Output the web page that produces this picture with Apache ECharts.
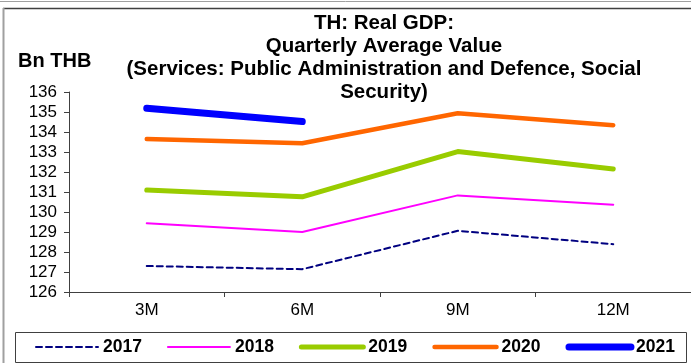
<!DOCTYPE html>
<html><head><meta charset="utf-8">
<script src="https://cdn.jsdelivr.net/npm/echarts@6/dist/echarts.min.js"></script>
<style>html,body{margin:0;padding:0;background:#fff}#c{width:691px;height:363px}</style>
</head><body><div id="c"></div>
<script>
const categories = ['3M', '6M', '9M', '12M'];
const s2017 = [127.30, 127.14, 129.06, 128.39];
const s2018 = [129.44, 129.00, 130.83, 130.36];
const s2019 = [131.10, 130.76, 133.02, 132.15];
const s2020 = [133.65, 133.44, 134.94, 134.34];
const s2021 = [135.19, 134.52];
const yTicks = [126, 127, 128, 129, 130, 131, 132, 133, 134, 135, 136];
const years = ['2017', '2018', '2019', '2020', '2021'];

const chart = echarts.init(document.getElementById('c'), null, {renderer: 'canvas'});
const FONT = 'Liberation Sans, Arial, sans-serif';
const styles = {
  '2017': {color: '#000080', width: 2, type: [6, 4]},
  '2018': {color: '#ff00ff', width: 2, type: 'solid'},
  '2019': {color: '#99cc00', width: 5, type: 'solid'},
  '2020': {color: '#ff6600', width: 4.5, type: 'solid'},
  '2021': {color: '#0000ff', width: 7, type: 'solid'}
};
function mk(name, data) {
  const s = styles[name];
  return {
    name, type: 'line', data, symbol: 'none', smooth: false,
    lineStyle: {color: s.color, width: s.width, type: s.type, cap: 'round', join: 'round'},
    itemStyle: {color: s.color}, emphasis: {disabled: true}, z: 3
  };
}
chart.setOption({
  animation: false,
  backgroundColor: '#fff',
  title: [{
    text: 'TH: Real GDP:\nQuarterly Average Value\n(Services: Public Administration and Defence, Social\nSecurity)',
    left: 384, top: 12, textAlign: 'center', padding: 0,
    textStyle: {fontFamily: FONT, fontWeight: 'bold', fontSize: 20.5, lineHeight: 23, color: '#000'}
  }, {
    text: 'Bn THB', left: 18, top: 51, padding: 0,
    textStyle: {fontFamily: FONT, fontWeight: 'bold', fontSize: 20, color: '#000'}
  }],
  grid: {left: 69, top: 92, bottom: 71, right: -2, containLabel: false},
  xAxis: {
    type: 'category', data: categories, boundaryGap: true,
    axisLine: {lineStyle: {color: '#404040', width: 1}},
    axisTick: {show: true, length: 5, lineStyle: {color: '#404040'}},
    axisLabel: {fontFamily: FONT, fontSize: 17, color: '#000', margin: 10},
    splitLine: {show: false}
  },
  yAxis: {
    type: 'value', min: yTicks[0], max: yTicks[yTicks.length - 1], interval: 1,
    axisLine: {show: true, lineStyle: {color: '#404040', width: 1}},
    axisTick: {show: true, length: 5, lineStyle: {color: '#404040'}},
    axisLabel: {fontFamily: FONT, fontSize: 17, color: '#000', margin: 12},
    splitLine: {show: false}
  },
  legend: {
    type: 'plain', orient: 'horizontal',
    top: 338, left: 35, width: 652, padding: 0,
    itemWidth: 62, itemHeight: 12, itemGap: 25,
    itemStyle: {opacity: 0},
    textStyle: {fontFamily: FONT, fontWeight: 'bold', fontSize: 17.5, color: '#000'},
    data: years.map(y => ({
      name: y,
      itemStyle: {opacity: 0},
      lineStyle: {width: styles[y].width, type: styles[y].type, color: styles[y].color, cap: 'round'}
    }))
  },
  graphic: [
    {type: 'line', shape: {x1: 0, y1: 1.5, x2: 691, y2: 1.5}, style: {stroke: '#a0a0a0', lineWidth: 1}, silent: true},
    {type: 'line', shape: {x1: 3, y1: 8.5, x2: 691, y2: 8.5}, style: {stroke: '#404040', lineWidth: 1.5}, silent: true},
    {type: 'line', shape: {x1: 3.5, y1: 8, x2: 3.5, y2: 363}, style: {stroke: '#a0a0a0', lineWidth: 2}, silent: true},
    {type: 'rect', shape: {x: 15.5, y: 332.5, width: 671, height: 30}, style: {fill: 'none', stroke: '#404040', lineWidth: 1}, silent: true}
  ],
  series: years.map((y, i) => mk(y, [s2017, s2018, s2019, s2020, s2021][i]))
});
</script></body></html>
